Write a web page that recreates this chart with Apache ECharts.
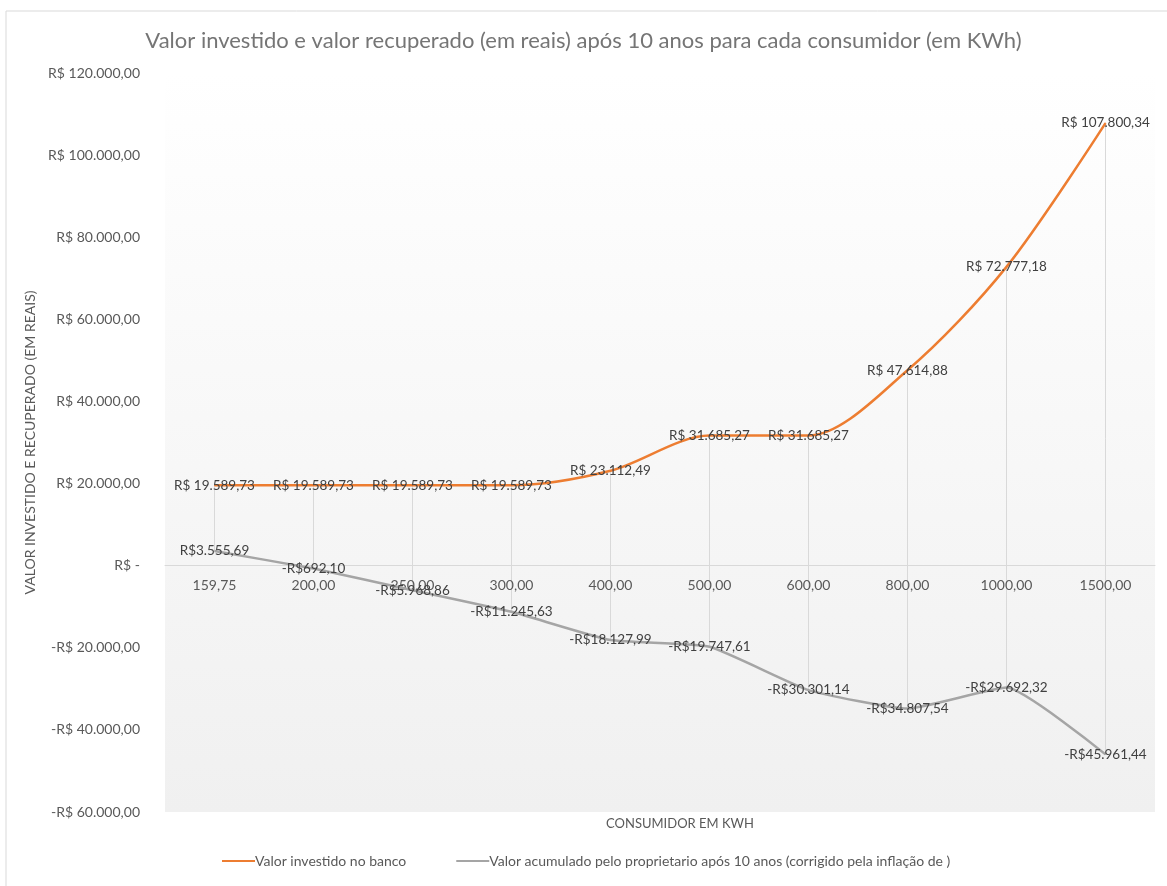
<!DOCTYPE html>
<html>
<head>
<meta charset="utf-8">
<script src="https://cdn.jsdelivr.net/npm/echarts@6/dist/echarts.min.js"></script>
<style>
  html, body { margin: 0; padding: 0; background: #fff; }
  #chart { width: 1167px; height: 886px; }
</style>
</head>
<body>
<div id="chart"></div>
<script>
// categorias (consumidor em KWh)
var categorias = ['159,75', '200,00', '250,00', '300,00', '400,00', '500,00', '600,00', '800,00', '1000,00', '1500,00'];
// valor investido no banco
var investido = [19589.73, 19589.73, 19589.73, 19589.73, 23112.49, 31685.27, 31685.27, 47614.88, 72777.18, 107800.34];
// valor acumulado pelo proprietario
var acumulado = [3555.69, -692.10, -5968.86, -11245.63, -18127.99, -19747.61, -30301.14, -34807.54, -29692.32, -45961.44];

var nomeInvestido = 'Valor investido no banco';
var nomeAcumulado = 'Valor acumulado pelo proprietario após 10 anos (corrigido pela inflação de )';

function fmtBR(v) {
  var s = Math.abs(v).toFixed(2).split('.');
  var inteiro = s[0].replace(/\B(?=(\d{3})+(?!\d))/g, '.');
  return inteiro + ',' + s[1];
}

// linhas máximo/mínimo
var hiLo = categorias.map(function (c, i) {
  return [i, Math.max(investido[i], acumulado[i]), Math.min(investido[i], acumulado[i])];
});

var fonte = 'Lato, Liberation Sans, sans-serif';

var chart = echarts.init(document.getElementById('chart'));
chart.setOption({
  backgroundColor: '#fff',
  animation: false,
  textStyle: { fontFamily: fonte },
  title: [{
    text: 'Valor investido e valor recuperado (em reais) após 10 anos para cada consumidor (em KWh)',
    left: 'center',
    top: 25,
    textStyle: { fontSize: 22, fontWeight: 'normal', color: '#757575', fontFamily: fonte }
  }, {
    text: 'CONSUMIDOR EM KWH',
    left: 675,
    top: 812,
    textAlign: 'center',
    textStyle: { fontSize: 13, fontWeight: 'normal', color: '#595959', fontFamily: fonte }
  }],
  graphic: [{
    type: 'rect',
    shape: { x: 6, y: 11, width: 1170, height: 890 },
    style: { fill: 'none', stroke: '#d9d9d9', lineWidth: 1 },
    silent: true
  }],
  legend: {
    data: [nomeInvestido, nomeAcumulado],
    bottom: 13,
    left: 217,
    icon: 'rect',
    itemWidth: 33,
    itemHeight: 2,
    itemGap: 50,
    textStyle: { fontSize: 14, color: '#595959', padding: [0, 0, 0, -5] }
  },
  grid: {
    left: 165,
    right: 12,
    top: 73,
    bottom: 74,
    show: true,
    borderWidth: 0,
    backgroundColor: new echarts.graphic.LinearGradient(0, 0, 0, 1, [
      { offset: 0, color: '#ffffff' },
      { offset: 1, color: '#f0f0f0' }
    ])
  },
  xAxis: {
    type: 'category',
    data: categorias,
    axisLine: { onZero: true, lineStyle: { color: '#d9d9d9' } },
    axisTick: { show: false },
    axisLabel: { show: false }
  },
  yAxis: {
    type: 'value',
    min: -60000,
    max: 120000,
    interval: 20000,
    name: 'VALOR INVESTIDO E RECUPERADO (EM REAIS)',
    nameLocation: 'middle',
    nameGap: 122,
    nameTextStyle: { color: '#595959', fontSize: 14 },
    axisLine: { show: false },
    axisTick: { show: false },
    splitLine: { show: false },
    axisLabel: {
      color: '#595959',
      fontSize: 14,
      margin: 25,
      formatter: function (v) {
        if (v === 0) return 'R$ -';
        return (v < 0 ? '-' : '') + 'R$ ' + fmtBR(v);
      }
    }
  },
  series: [{
    name: 'hilo',
    type: 'custom',
    data: hiLo,
    z: 1,
    silent: true,
    renderItem: function (params, api) {
      var i = api.value(0);
      var p1 = api.coord([i, api.value(1)]);
      var p2 = api.coord([i, api.value(2)]);
      var p0 = api.coord([i, 0]);
      return {
        type: 'group',
        children: [{
          type: 'line',
          shape: { x1: p1[0], y1: p1[1], x2: p2[0], y2: p2[1] },
          style: { stroke: '#d9d9d9', lineWidth: 1 }
        }, {
          // rótulo da categoria logo abaixo do eixo zero
          type: 'text',
          x: p0[0],
          y: p0[1] + 20,
          style: {
            text: categorias[i],
            fill: '#595959',
            fontSize: 14,
            fontFamily: fonte,
            align: 'center',
            verticalAlign: 'middle'
          }
        }]
      };
    }
  }, {
    name: nomeInvestido,
    type: 'line',
    data: investido,
    smooth: 0.3,
    symbol: 'circle',
    symbolSize: 1,
    z: 3,
    itemStyle: { color: '#ED7D31' },
    lineStyle: { color: '#ED7D31', width: 2.5 },
    label: {
      show: true,
      position: 'inside',
      color: '#404040',
      fontSize: 13.5,
      formatter: function (p) { return 'R$ ' + fmtBR(p.value); }
    }
  }, {
    name: nomeAcumulado,
    type: 'line',
    data: acumulado,
    smooth: 0.15,
    symbol: 'circle',
    symbolSize: 1,
    z: 3,
    itemStyle: { color: '#A5A5A5' },
    lineStyle: { color: '#A5A5A5', width: 2.5 },
    label: {
      show: true,
      position: 'inside',
      color: '#404040',
      fontSize: 13.5,
      formatter: function (p) { return (p.value < 0 ? '-' : '') + 'R$' + fmtBR(p.value); }
    }
  }]
});
</script>
</body>
</html>
